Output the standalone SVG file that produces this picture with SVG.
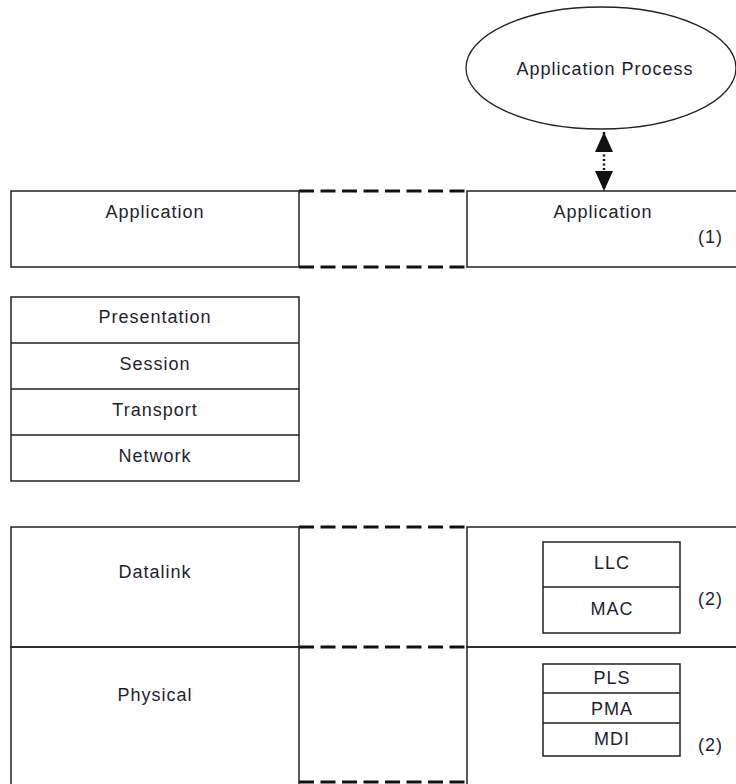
<svg xmlns="http://www.w3.org/2000/svg" width="736" height="784" viewBox="0 0 736 784">
<style>
.box{fill:none;stroke:#222;stroke-width:1.5}
.dash{fill:none;stroke:#111;stroke-width:3;stroke-dasharray:15 6.5}
.t{font-family:"Liberation Sans",Arial,sans-serif;font-size:18px;letter-spacing:1px;fill:#1e1e30;text-anchor:middle}
.n{font-family:"Liberation Sans",Arial,sans-serif;font-size:18px;letter-spacing:1px;fill:#1e1e30;text-anchor:start}
</style>
<defs>
<marker id="ah" viewBox="0 0 20 18" refX="20" refY="9" markerWidth="20" markerHeight="18" markerUnits="userSpaceOnUse" orient="auto-start-reverse">
<path d="M0,0 L20,9 L0,18 Z" fill="#111"/>
</marker>
</defs>
<rect width="736" height="784" fill="#fff"/>
<g id="connectors">
<line x1="604" y1="132" x2="604" y2="191" stroke="#111" stroke-width="2.5" stroke-dasharray="2 2.5" marker-start="url(#ah)" marker-end="url(#ah)"/>
<path class="dash" d="M299,191 H467 M299,267 H467"/>
<path class="dash" d="M299,527 H467 M299,647 H467 M299,782 H467"/>
</g>
<g id="app-process">
<ellipse cx="601" cy="68" rx="135" ry="61" fill="none" stroke="#222" stroke-width="1.3"/>
<text class="t" x="605" y="75">Application Process</text>
</g>
<g id="left-application">
<rect class="box" x="11" y="191" width="288" height="76"/>
<text class="t" x="155" y="218">Application</text>
</g>
<g id="right-application">
<rect class="box" x="467" y="191" width="280" height="76"/>
<text class="t" x="603" y="218">Application</text>
<text class="n" x="698" y="243">(1)</text>
</g>
<g id="left-stack">
<rect class="box" x="11" y="297" width="288" height="184"/>
<path class="box" d="M11,343 H299 M11,389 H299 M11,435 H299"/>
<text class="t" x="155" y="323">Presentation</text>
<text class="t" x="155" y="370">Session</text>
<text class="t" x="155" y="416">Transport</text>
<text class="t" x="155" y="462">Network</text>
</g>
<g id="left-datalink">
<rect class="box" x="11" y="527" width="288" height="120"/>
<text class="t" x="155" y="578">Datalink</text>
</g>
<g id="left-physical">
<rect class="box" x="11" y="647" width="288" height="145"/>
<text class="t" x="155" y="701">Physical</text>
</g>
<g id="right-datalink">
<rect class="box" x="467" y="527" width="280" height="120"/>
<rect class="box" x="543" y="542" width="137" height="91"/>
<line class="box" x1="543" y1="587" x2="680" y2="587"/>
<text class="t" x="612" y="569">LLC</text>
<text class="t" x="612" y="615">MAC</text>
<text class="n" x="698" y="605">(2)</text>
</g>
<g id="right-physical">
<rect class="box" x="467" y="647" width="280" height="145"/>
<rect class="box" x="543" y="664" width="137" height="92"/>
<path class="box" d="M543,693 H680 M543,723 H680"/>
<text class="t" x="612" y="684">PLS</text>
<text class="t" x="612" y="715">PMA</text>
<text class="t" x="612" y="745">MDI</text>
<text class="n" x="698" y="751">(2)</text>
</g>
</svg>
